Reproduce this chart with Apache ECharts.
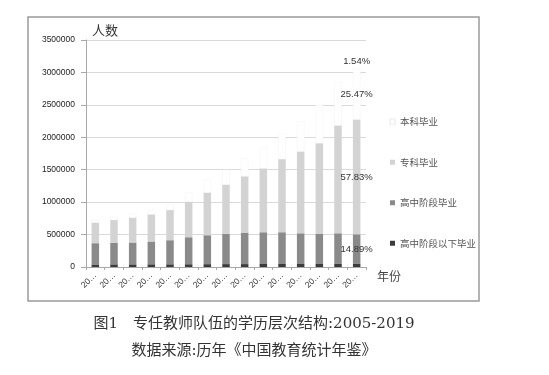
<!DOCTYPE html>
<html>
<head>
<meta charset="utf-8">
<style>
html,body{margin:0;padding:0;background:#ffffff;}
#chart{width:549px;height:375px;}
</style>
<script src="https://cdn.jsdelivr.net/npm/echarts@6/dist/echarts.min.js"></script>
</head>
<body>
<div id="chart"></div>
<script>
// ---- data ----
const years = ['2005','2006','2007','2008','2009','2010','2011','2012','2013','2014','2015','2016','2017','2018','2019'];
const belowHighSchool = [40000,41000,41000,42000,42000,43000,44000,45000,45000,46000,46000,46000,46000,47000,47000];
const highSchool      = [327000,331000,337000,351000,371000,416000,446000,465000,485000,490000,490000,474000,464000,473000,457000];
const juniorCollege   = [317000,352000,382000,418000,465000,546000,658000,760000,868000,984000,1127000,1261000,1398000,1662000,1771000];
const bachelor        = [46000,51000,60000,69000,92000,145000,202000,230000,282000,330000,387000,469000,592000,668000,782000];
const seriesNames = ['本科毕业','专科毕业','高中阶段毕业','高中阶段以下毕业'];
const pctLast = {bachelor:'25.47%', junior:'57.83%', high:'14.89%', below:'1.54%'};
const yTicks = {min:0, max:3500000, interval:500000};

const lastIdx = years.length - 1;
const labelFont = 'Liberation Sans, Arial, sans-serif';
const cjkFont = 'Noto Sans CJK SC, sans-serif';
const captionFont = 'DejaVu Serif, Noto Sans CJK SC, serif';

function withLastLabel(arr, text){
  return arr.map((v,i)=> i===lastIdx ? {value:v, label:{show:true, position:'inside', formatter:text, color:'#333', fontSize:9.5, fontFamily:labelFont}} : v);
}

const chart = echarts.init(document.getElementById('chart'), null, {renderer:'canvas'});

const option = {
  backgroundColor:'#ffffff',
  animation:false,
  grid:{left:86, right:183, top:40, bottom:108, containLabel:false},
  legend:{
    orient:'vertical', left:384, top:112, itemWidth:5, itemHeight:5, itemGap:31,
    icon:'rect',
    data:seriesNames,
    textStyle:{fontSize:9.5, color:'#555', fontFamily:cjkFont}
  },
  xAxis:{
    type:'category', data:years,
    axisLine:{lineStyle:{color:'#a8a8a8', width:1}},
    axisTick:{show:true, length:3, lineStyle:{color:'#a8a8a8'}},
    axisLabel:{rotate:45, margin:7, fontSize:8.5, color:'#333', fontFamily:labelFont,
      formatter:function(v){return v.slice(0,2)+'…';}}
  },
  yAxis:{
    type:'value', min:yTicks.min, max:yTicks.max, interval:yTicks.interval,
    axisLine:{show:true, lineStyle:{color:'#a8a8a8', width:1}},
    axisTick:{show:true, length:5, lineStyle:{color:'#a8a8a8'}},
    splitLine:{lineStyle:{color:'#d9d9d9', width:1}},
    axisLabel:{margin:11, fontSize:8.5, color:'#222', fontFamily:labelFont,
      formatter:function(v){return String(v);}}
  },
  series:[
    {name:seriesNames[3], type:'bar', stack:'t', barWidth:7.5,
      itemStyle:{color:'#3c3c3c'}, data:belowHighSchool},
    {name:seriesNames[2], type:'bar', stack:'t', barWidth:7.5,
      itemStyle:{color:'#8a8a8a'},
      data:withLastLabel(highSchool, pctLast.high)},
    {name:seriesNames[1], type:'bar', stack:'t', barWidth:7.5,
      itemStyle:{color:'#d3d3d3'},
      data:withLastLabel(juniorCollege, pctLast.junior)},
    {name:seriesNames[0], type:'bar', stack:'t', barWidth:7.5,
      itemStyle:{color:'#ffffff', borderColor:'#f3f3f3', borderWidth:0.5},
      data:withLastLabel(bachelor, pctLast.bachelor)}
  ],
  graphic:[
    {type:'rect', id:'frame', shape:{x:28, y:17, width:451, height:284}, style:{fill:'none', stroke:'#9a9a9a', lineWidth:1.5}, silent:true},
    {type:'text', id:'yname', left:92, top:24, style:{text:'人数', fontSize:13, fill:'#333', fontFamily:cjkFont}},
    {type:'text', id:'xname', left:377, top:270, style:{text:'年份', fontSize:12, fill:'#444', fontFamily:cjkFont}},
    {type:'text', id:'cap1', x:254, y:324, style:{text:'图1　专任教师队伍的学历层次结构:2005-2019', fontSize:15, fill:'#333', fontFamily:captionFont, align:'center', verticalAlign:'middle'}},
    {type:'text', id:'cap2', x:254, y:351, style:{text:'数据来源:历年《中国教育统计年鉴》', fontSize:15, fill:'#333', fontFamily:captionFont, align:'center', verticalAlign:'middle'}}
  ]
};
chart.setOption(option);

// 1.54% label placed above the last stacked bar, positioned through the axes
const lastTotal = belowHighSchool[lastIdx] + highSchool[lastIdx] + juniorCollege[lastIdx] + bachelor[lastIdx];
const px = chart.convertToPixel({xAxisIndex:0}, years[lastIdx]);
const py = chart.convertToPixel({yAxisIndex:0}, lastTotal);
chart.setOption({graphic:[{type:'text', id:'pctTop', x:px, y:py-7, style:{text:pctLast.below, fontSize:9.5, fill:'#333', fontFamily:labelFont, align:'center', verticalAlign:'middle'}}]});
</script>
</body>
</html>
